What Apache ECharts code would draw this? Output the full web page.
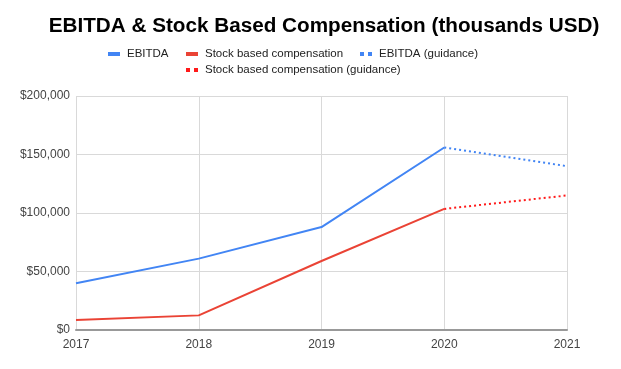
<!DOCTYPE html>
<html><head><meta charset="utf-8">
<script src="https://cdn.jsdelivr.net/npm/echarts@6/dist/echarts.min.js"></script>
<style>html,body{margin:0;padding:0;background:#fff}#c{width:621px;height:369px}</style>
</head><body><div id="c"></div>
<script>
const categories = ['2017','2018','2019','2020','2021'];
const ebitda = [40000, 61000, 88000, 156000, null];
const sbc = [8500, 12500, 59000, 103500, null];
const ebitdaGuidance = [null, null, null, 156000, 140000];
const sbcGuidance = [null, null, null, 103500, 115000];
const yTicks = [0, 50000, 100000, 150000, 200000];

const FONT = 'Arial, "Liberation Sans", sans-serif';
const BLUE = '#4285f4', RED = '#ea4335', RED2 = '#ff1a1a';
const solidIcon = 'path://M0,0h12v4h-12z';
const dotIcon = 'path://M0,0h4v4h-4zM8,0h4v4h-4z';
const legText = {fontFamily: FONT, fontSize: 11.5, color: '#222', padding: [0,0,0,2]};
function leg(name, icon, left, top) {
  return {data: [{name: name, icon: icon}], left: left, top: top, itemWidth: 12, itemHeight: 4,
    padding: 0, textStyle: legText};
}

const chart = echarts.init(document.getElementById('c'));
chart.setOption({
  animation: false,
  title: {text: 'EBITDA & Stock Based Compensation (thousands USD)', left: 319, textAlign: 'center', top: 11,
    textStyle: {fontFamily: FONT, fontSize: 20.7, fontWeight: 'bold', color: '#000'}},
  legend: [
    leg('EBITDA', solidIcon, 108, 48),
    leg('Stock based compensation', solidIcon, 186, 48),
    leg('EBITDA (guidance)', dotIcon, 360, 48),
    leg('Stock based compensation (guidance)', dotIcon, 186, 64)
  ],
  grid: {left: 76, right: 54, top: 96, bottom: 39},
  xAxis: {type: 'category', data: categories, boundaryGap: false,
    axisLine: {lineStyle: {color: '#999', width: 2}}, axisTick: {show: false},
    axisLabel: {fontFamily: FONT, fontSize: 12, color: '#444', margin: 9},
    splitLine: {show: true, lineStyle: {color: '#d9d9d9', width: 1}}},
  yAxis: {type: 'value', min: yTicks[0], max: yTicks[yTicks.length-1], interval: yTicks[1]-yTicks[0],
    axisLine: {show: false}, axisTick: {show: false},
    axisLabel: {fontFamily: FONT, fontSize: 12, color: '#444', margin: 6,
      formatter: v => '$' + v.toLocaleString('en-US')},
    splitLine: {lineStyle: {color: '#d9d9d9', width: 1}}},
  series: [
    {name: 'EBITDA', type: 'line', data: ebitda, showSymbol: false, color: BLUE, lineStyle: {width: 2}},
    {name: 'Stock based compensation', type: 'line', data: sbc, showSymbol: false, color: RED, lineStyle: {width: 2}},
    {name: 'EBITDA (guidance)', type: 'line', data: ebitdaGuidance, showSymbol: false, color: BLUE, lineStyle: {width: 2, type: [2, 3]}},
    {name: 'Stock based compensation (guidance)', type: 'line', data: sbcGuidance, showSymbol: false, color: RED2, lineStyle: {width: 2, type: [2, 3]}}
  ]
});
</script></body></html>
